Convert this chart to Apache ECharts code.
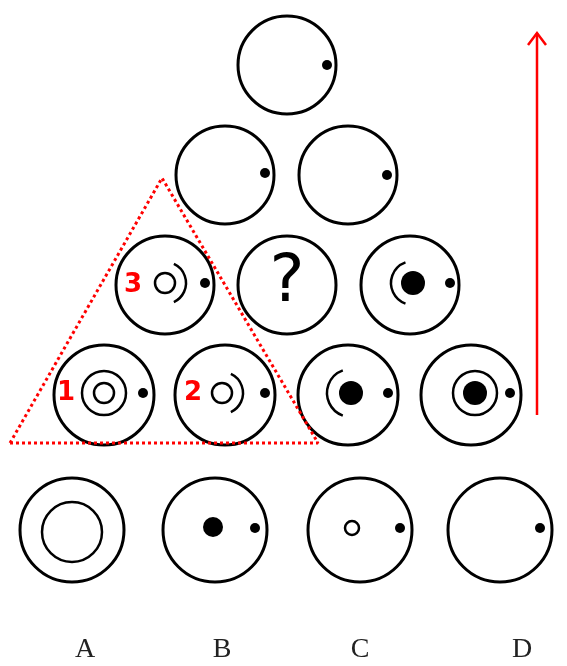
<!DOCTYPE html>
<html>
<head>
<meta charset="utf-8">
<script src="https://cdn.jsdelivr.net/npm/echarts@6/dist/echarts.min.js"></script>
<style>html,body{margin:0;padding:0;background:#fff}#main{width:567px;height:666px}</style>
</head>
<body>
<div id="main"></div>
<script>
// big circles: [x, y, r]
var bigCircles = [
    [287, 65, 49],
    [225, 175, 49], [348, 175, 49],
    [165, 285, 49], [287, 285, 49], [410, 285, 49],
    [104, 395, 50], [225, 395, 50], [348, 395, 50], [471, 395, 50],
    [72, 530, 52], [215, 530, 52], [360, 530, 52], [500, 530, 52]
];
// small black dots: [x, y, r]
var dots = [
    [327, 65, 5], [265, 173, 5], [387, 175, 5],
    [205, 283, 5], [450, 283, 5],
    [143, 393, 5], [265, 393, 5], [388, 393, 5], [510, 393, 5],
    [255, 528, 5], [400, 528, 5], [540, 528, 5],
    [413, 283, 12], [351, 393, 12], [475, 393, 12], [213, 527, 10]
];
// thin rings: [x, y, r]
var rings = [
    [165, 283, 10], [104, 393, 10], [104, 393, 22], [222, 393, 10],
    [475, 393, 22], [72, 532, 30], [352, 528, 7]
];
// arcs: [x, y, r, startDeg, endDeg]
var arcs = [
    [165, 283, 21, -65, 65],
    [222, 393, 21, -65, 65],
    [413, 283, 22, 110, 250],
    [351, 393, 24, 110, 250]
];
var triangle = [[10, 443], [162, 178], [318, 443], [10, 443]];
var arrowPts = [[537, 415], [537, 33]];
var redNumbers = [['1', 66, 393], ['2', 193, 393], ['3', 133, 285]];
var optionLabels = [['A', 85, 650], ['B', 222, 650], ['C', 360, 650], ['D', 522, 650]];

function circleSeries(data, fill, width) {
    return {
        type: 'custom', data: data,
        renderItem: function (params, api) {
            var c = api.coord([api.value(0), api.value(1)]);
            var r = api.size([api.value(2), 0])[0];
            return {
                type: 'circle', shape: {cx: c[0], cy: c[1], r: r},
                style: fill ? {fill: '#000'} : {fill: 'none', stroke: '#000', lineWidth: width}
            };
        }
    };
}

var chart = echarts.init(document.getElementById('main'));
chart.setOption({
    animation: false,
    grid: {left: 0, right: 0, top: 0, bottom: 0},
    xAxis: {type: 'value', min: 0, max: 567, show: false},
    yAxis: {type: 'value', min: 0, max: 666, inverse: true, show: false},
    series: [
        circleSeries(bigCircles, false, 3),
        circleSeries(dots, true, 0),
        circleSeries(rings, false, 2.5),
        {
            type: 'custom', data: arcs,
            renderItem: function (params, api) {
                var c = api.coord([api.value(0), api.value(1)]);
                var r = api.size([api.value(2), 0])[0];
                return {
                    type: 'arc',
                    shape: {cx: c[0], cy: c[1], r: r,
                        startAngle: api.value(3) * Math.PI / 180,
                        endAngle: api.value(4) * Math.PI / 180, clockwise: true},
                    style: {fill: 'none', stroke: '#000', lineWidth: 2.5}
                };
            }
        },
        {
            type: 'line', data: triangle, symbol: 'none',
            lineStyle: {color: '#f00', width: 3, type: [3, 3]}
        },
        {
            // arrow: shaft + open head
            type: 'custom', data: [arrowPts[0].concat(arrowPts[1])],
            renderItem: function (params, api) {
                var a = api.coord([api.value(0), api.value(1)]);
                var b = api.coord([api.value(2), api.value(3)]);
                return {type: 'group', children: [
                    {type: 'line', shape: {x1: a[0], y1: a[1], x2: b[0], y2: b[1]},
                        style: {stroke: '#f00', lineWidth: 2.5}},
                    {type: 'polyline', shape: {points: [[b[0] - 9, b[1] + 12], [b[0], b[1]], [b[0] + 9, b[1] + 12]]},
                        style: {stroke: '#f00', lineWidth: 2.5, fill: 'none'}}
                ]};
            }
        },
        {
            type: 'custom', data: redNumbers,
            renderItem: function (params, api) {
                var c = api.coord([api.value(1), api.value(2)]);
                return {type: 'text', style: {text: redNumbers[params.dataIndex][0], x: c[0], y: c[1],
                    align: 'center', verticalAlign: 'middle', fill: '#f00',
                    font: 'bold 26px "DejaVu Sans"'}};
            }
        },
        {
            type: 'custom', data: optionLabels,
            renderItem: function (params, api) {
                var c = api.coord([api.value(1), api.value(2)]);
                return {type: 'text', style: {text: optionLabels[params.dataIndex][0], x: c[0], y: c[1],
                    align: 'center', verticalAlign: 'middle', fill: '#222',
                    font: '28px "Liberation Serif"'}};
            }
        },
        {
            type: 'custom', data: [['?', 287, 284]],
            renderItem: function (params, api) {
                var c = api.coord([api.value(1), api.value(2)]);
                return {type: 'text', style: {text: '?', x: c[0], y: c[1],
                    align: 'center', verticalAlign: 'middle', fill: '#000',
                    font: '66px "DejaVu Sans"'}};
            }
        }
    ]
});
</script>
</body>
</html>
